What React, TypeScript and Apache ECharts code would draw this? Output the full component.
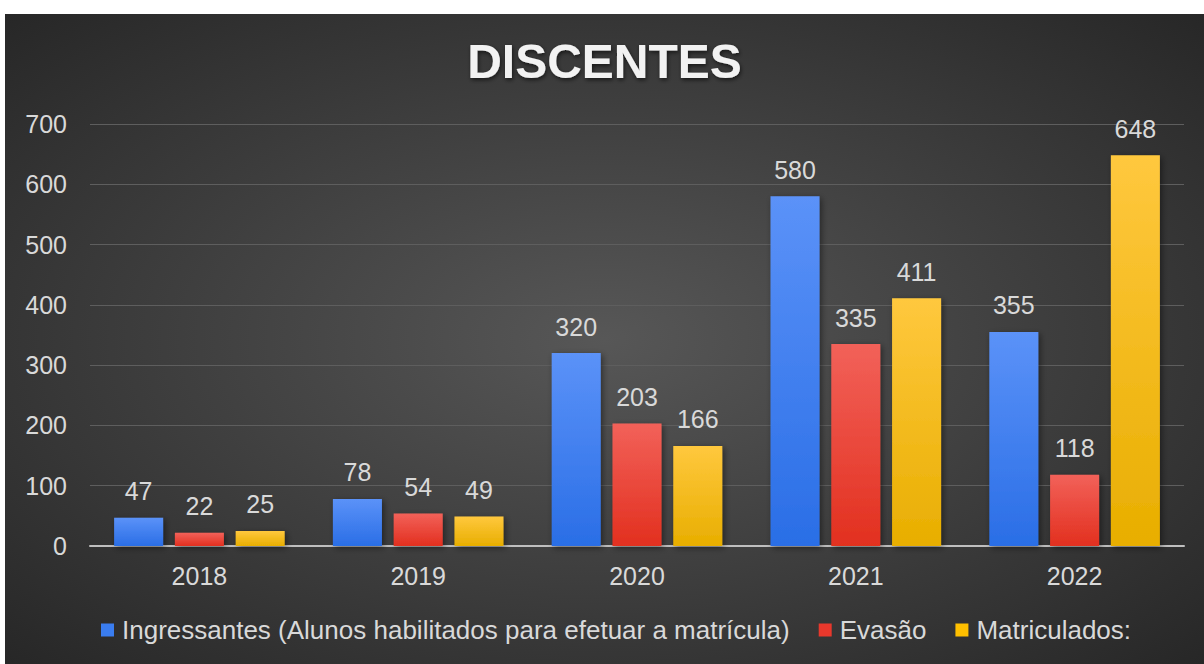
import React, { useEffect, useRef } from "react";
import * as echarts from "echarts";

const categories = ["2018", "2019", "2020", "2021", "2022"];
const seriesNames = [
  "Ingressantes (Alunos habilitados para efetuar a matrícula)",
  "Evasão",
  "Matriculados:",
];
const ingressantes = [47, 78, 320, 580, 355];
const evasao = [22, 54, 203, 335, 118];
const matriculados = [25, 49, 166, 411, 648];
const yTicks = { min: 0, max: 700, interval: 100 };

const FONT = "'Liberation Sans', Arial, sans-serif";

function grad(top: string, bottom: string) {
  return new echarts.graphic.LinearGradient(0, 0, 0, 1, [
    { offset: 0, color: top },
    { offset: 1, color: bottom },
  ]);
}

export default function App() {
  const ref = useRef<HTMLDivElement>(null);
  useEffect(() => {
    if (!ref.current) return;
    const chart = echarts.init(ref.current, null, { renderer: "svg" });
    const colors = [
      grad("#5B92F8", "#2A6EE6"),
      grad("#F26159", "#E2301F"),
      grad("#FFC83E", "#E8AE00"),
    ];
    const legendColors = ["#3A7DF0", "#E8382C", "#FFC000"];
    const datas = [ingressantes, evasao, matriculados];
    chart.setOption({
      animation: false,
      backgroundColor: new echarts.graphic.RadialGradient(0.5, 0.5, 0.75, [
        { offset: 0, color: "#575757" },
        { offset: 1, color: "#242424" },
      ]),
      title: {
        text: "DISCENTES",
        left: "center",
        top: 18,
        textStyle: {
          fontFamily: FONT,
          fontSize: 48,
          fontWeight: "bold",
          color: "#F2F2F2",
          textShadowColor: "rgba(0,0,0,0.6)",
          textShadowBlur: 4,
          textShadowOffsetX: 1,
          textShadowOffsetY: 2,
        },
      },
      legend: {
        bottom: 16,
        left: 91,
        itemWidth: 13,
        itemHeight: 13,
        itemGap: 29,
        icon: "rect",
        textStyle: { fontFamily: FONT, fontSize: 26, color: "#D9D9D9", padding: [0, 0, 0, 3] },
        data: seriesNames.map((n, i) => ({
          name: n,
          itemStyle: { color: legendColors[i], shadowBlur: 0 },
        })),
      },
      grid: { left: 85, right: 20, top: 110, bottom: 118, containLabel: false },
      xAxis: {
        type: "category",
        data: categories,
        axisTick: { show: false },
        axisLine: { lineStyle: { color: "#BFBFBF", width: 2 } },
        axisLabel: {
          fontFamily: FONT,
          fontSize: 25,
          color: "#D9D9D9",
          margin: 17,
        },
      },
      yAxis: {
        type: "value",
        min: yTicks.min,
        max: yTicks.max,
        interval: yTicks.interval,
        axisLine: { show: false },
        axisTick: { show: false },
        splitLine: { lineStyle: { color: "#5E5E5E", width: 1 } },
        axisLabel: {
          fontFamily: FONT,
          fontSize: 25,
          color: "#D9D9D9",
          margin: 23,
        },
      },
      series: datas.map((d, i) => ({
        name: seriesNames[i],
        type: "bar",
        data: d,
        barWidth: "22.4%",
        barGap: "24%",
        itemStyle: {
          color: colors[i],
          shadowColor: "rgba(0,0,0,0.45)",
          shadowBlur: 6,
          shadowOffsetX: 2,
          shadowOffsetY: 2,
        },
        label: {
          show: true,
          position: "top",
          distance: 14,
          fontFamily: FONT,
          fontSize: 25,
          color: "#D9D9D9",
        },
      })),
    });
    return () => chart.dispose();
  }, []);
  return (
    <div
      style={{
        position: "fixed",
        left: 0,
        top: 0,
        width: 1204,
        height: 664,
        background: "#FFFFFF",
      }}
    >
      <div
        ref={ref}
        style={{ position: "absolute", left: 5, top: 14, width: 1199, height: 650 }}
      />
    </div>
  );
}
